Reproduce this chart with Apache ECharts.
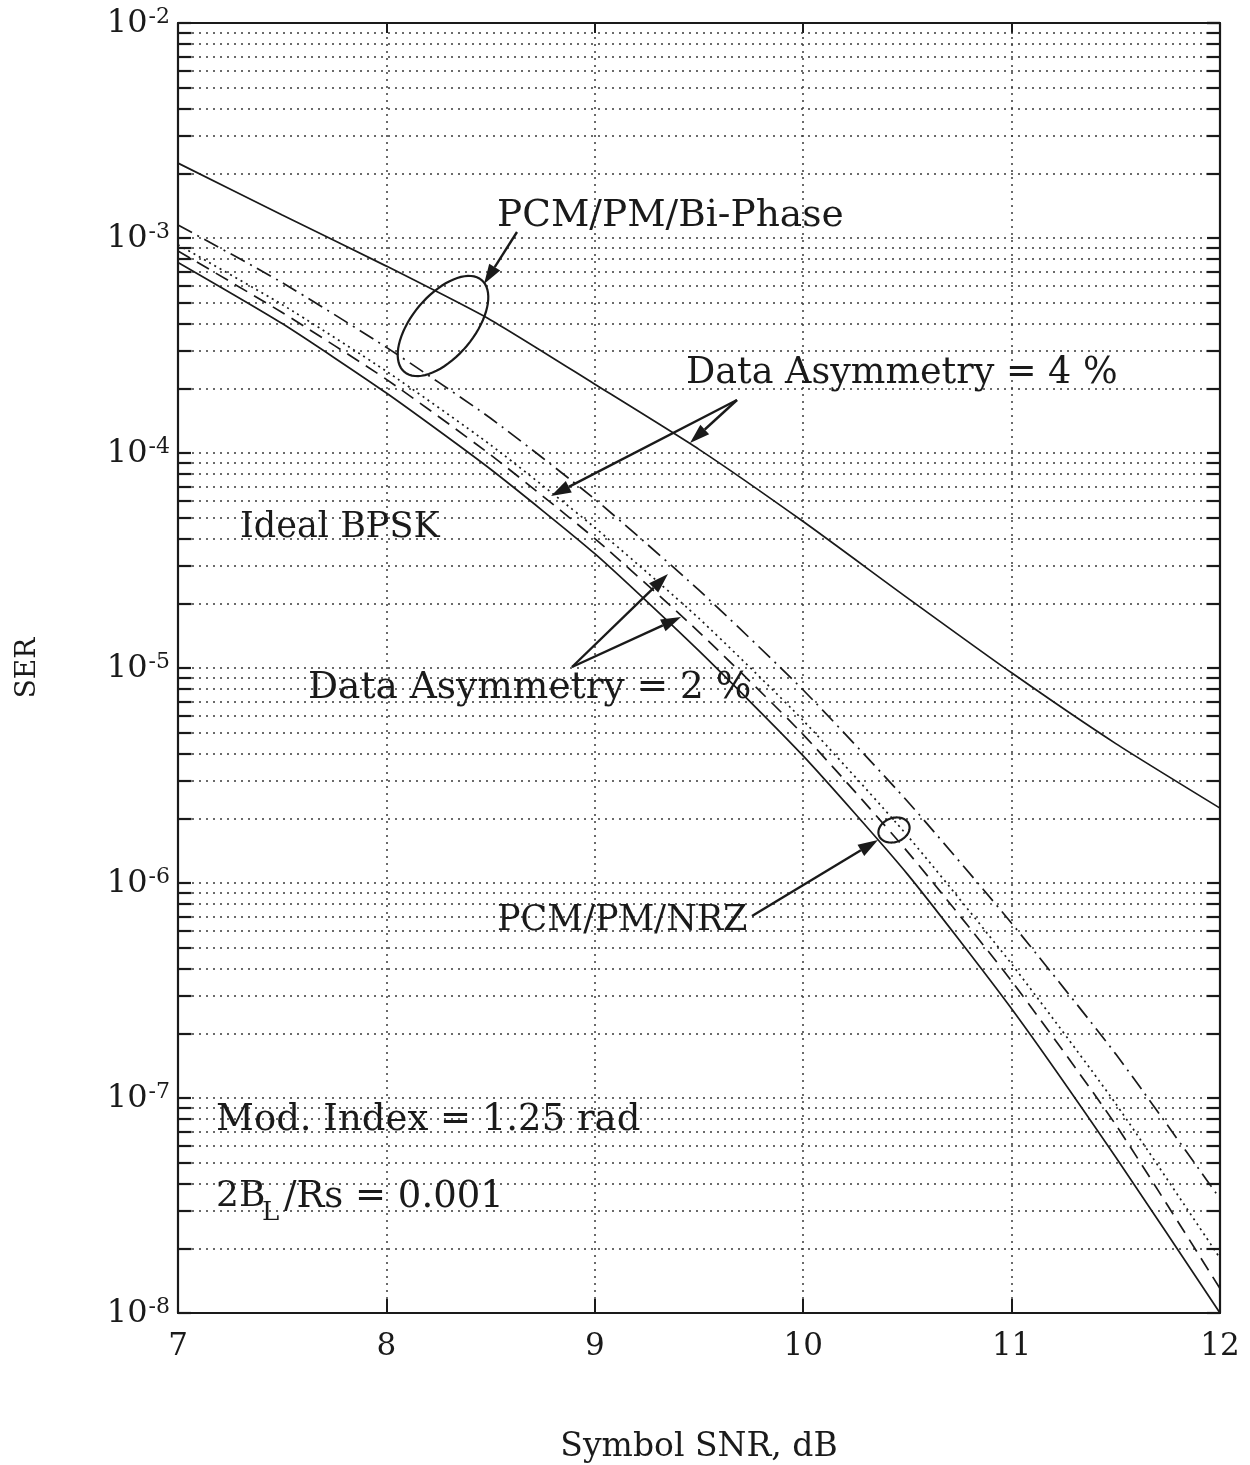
<!DOCTYPE html>
<html><head><meta charset="utf-8">
<script src="https://cdn.jsdelivr.net/npm/echarts@6/dist/echarts.min.js"></script>
<style>html,body{margin:0;padding:0;background:#fff}#c{width:1250px;height:1465px}</style>
</head><body><div id="c"></div>
<script>
// ---- data ----
const snrDb = [7, 7.5, 8, 8.5, 9, 9.5, 10, 10.5, 11, 11.5, 12];
const biPhaseSolid = [2.23e-3, 1.28e-3, 7.4e-4, 4.16e-4, 2.09e-4, 1.04e-4, 4.8e-5, 2.12e-5, 9.5e-6, 4.45e-6, 2.23e-6];
const dashDotCurve = [1.15e-3, 6.2e-4, 3.1e-4, 1.45e-4, 6.1e-5, 2.3e-5, 7.9e-6, 2.4e-6, 6.5e-7, 1.6e-7, 3.4e-8];
const dottedCurve  = [9.3e-4, 4.9e-4, 2.4e-4, 1.09e-4, 4.5e-5, 1.7e-5, 5.7e-6, 1.66e-6, 4.2e-7, 9.4e-8, 1.8e-8];
const dashedCurve  = [8.7e-4, 4.5e-4, 2.2e-4, 9.8e-5, 4.0e-5, 1.47e-5, 4.9e-6, 1.4e-6, 3.5e-7, 7.5e-8, 1.3e-8];
const idealBpsk    = [7.7e-4, 4.0e-4, 1.9e-4, 8.4e-5, 3.4e-5, 1.2e-5, 3.9e-6, 1.1e-6, 2.6e-7, 5.3e-8, 1.0e-8];
const xTicks = [7, 8, 9, 10, 11, 12];
const decadeExponents = [-8, -7, -6, -5, -4, -3];
const minorMultipliers = [2, 3, 4, 5, 6, 7, 8, 9];

// ---- build helpers ----
const pair = (ys) => snrDb.map((x, i) => [x, ys[i]]);
const minorValues = [];
decadeExponents.forEach(e => minorMultipliers.forEach(m => minorValues.push(+(m * Math.pow(10, e)).toPrecision(3))));

const SERIF = '"DejaVu Serif"';
const INK = '#1a1a1a';
const GRID = '#3a3a3a';

const minorGridLines = minorValues.map(v => [{ coord: [7, v] }, { coord: [12, v] }]);
const tickLen = 0.065;
const minorTickSegs = [];
minorValues.forEach(v => {
  minorTickSegs.push([{ coord: [7, v] }, { coord: [7 + tickLen, v] }]);
  minorTickSegs.push([{ coord: [12 - tickLen, v] }, { coord: [12, v] }]);
});

function lineSeries(name, data, type) {
  return {
    name, type: 'line', data: pair(data), showSymbol: false, smooth: 0.2,
    lineStyle: { color: INK, width: 1.7, type }, silent: true, z: 5
  };
}

function arrow(x1, y1, x2, y2) {
  const ang = Math.atan2(y2 - y1, x2 - x1);
  const L = 20, W = 6.5;
  const bx = x2 - L * Math.cos(ang), by = y2 - L * Math.sin(ang);
  const px = -Math.sin(ang) * W, py = Math.cos(ang) * W;
  return [
    { type: 'line', shape: { x1, y1, x2: bx, y2: by }, style: { stroke: INK, lineWidth: 2.4 }, z: 10 },
    { type: 'polygon', shape: { points: [[x2, y2], [bx + px, by + py], [bx - px, by - py]] }, style: { fill: INK }, z: 10 }
  ];
}
function ellipse(cx, cy, a, b, deg) {
  const pts = [];
  const t = deg * Math.PI / 180;
  for (let i = 0; i < 72; i++) {
    const u = i / 72 * 2 * Math.PI;
    const ex = a * Math.cos(u), ey = b * Math.sin(u);
    pts.push([cx + ex * Math.cos(t) - ey * Math.sin(t), cy + ex * Math.sin(t) + ey * Math.cos(t)]);
  }
  return { type: 'polygon', shape: { points: pts }, style: { fill: 'none', stroke: INK, lineWidth: 2.2 }, z: 10 };
}
function label(text, x, y, size) {
  return { type: 'text', x, y, style: { text, font: (size || 34) + 'px ' + SERIF, fill: INK, verticalAlign: 'middle' }, z: 10 };
}

const graphics = [
  label('PCM/PM/Bi-Phase', 497, 216, 37.5),
  label('Data Asymmetry = 4 %', 686, 374, 36.5),
  label('Ideal BPSK', 240, 528, 35),
  label('Data Asymmetry = 2 %', 308, 688, 37.5),
  label('PCM/PM/NRZ', 497, 921, 35),
  label('Mod. Index = 1.25 rad', 216, 1120, 37),
  label('2B', 216, 1197, 36),
  label('L', 262, 1213, 26),
  label('/Rs = 0.001', 284, 1197, 37),
  ellipse(443, 326, 60, 31, -50),
  ellipse(894, 830, 16, 12, -20),
  ...arrow(517, 232, 484, 284),
  ...arrow(737, 400, 551, 496),
  ...arrow(737, 400, 690, 443),
  ...arrow(572, 667, 668, 574),
  ...arrow(572, 667, 681, 617),
  ...arrow(752, 916, 878, 840)
];

const chart = echarts.init(document.getElementById('c'), null, { renderer: 'canvas' });
const yAxisBase = {
  type: 'log', logBase: 10, min: 1e-8, max: 1e-2, splitNumber: 6,
  axisLine: { show: true, lineStyle: { color: INK, width: 2.2 } },
  axisTick: { show: true, inside: true, length: 13, lineStyle: { color: INK, width: 2.2 } },
  splitLine: { show: false }
};
chart.setOption({
  animation: false,
  backgroundColor: '#fff',
  grid: { left: 178, right: 30, top: 23, bottom: 152, containLabel: false, outerBoundsMode: 'none' },
  xAxis: [{
    type: 'value', min: 7, max: 12, interval: 1,
    name: 'Symbol SNR, dB', nameLocation: 'middle', nameGap: 118,
    nameTextStyle: { fontFamily: SERIF, fontSize: 33, color: INK },
    axisLine: { show: true, lineStyle: { color: INK, width: 2.2 } },
    axisTick: { show: true, inside: true, length: 14, lineStyle: { color: INK, width: 2 } },
    axisLabel: { fontFamily: SERIF, fontSize: 31, color: INK, margin: 18, formatter: v => xTicks.includes(v) ? String(v) : '' },
    splitLine: { show: true, lineStyle: { color: GRID, width: 1.5, type: [2, 5] } }
  }, {
    type: 'value', min: 7, max: 12, interval: 1, position: 'top',
    axisLine: { show: true, lineStyle: { color: INK, width: 2.2 } },
    axisTick: { show: true, inside: true, length: 10, lineStyle: { color: INK, width: 2 } },
    axisLabel: { show: false }, splitLine: { show: false }
  }],
  yAxis: [Object.assign({}, yAxisBase, {
    name: 'SER', nameLocation: 'middle', nameGap: 136, nameRotate: 90,
    nameTextStyle: { fontFamily: SERIF, fontSize: 28, color: INK },
    splitLine: { show: true, lineStyle: { color: GRID, width: 1.5, type: [2, 5] } },
    axisLabel: {
      margin: 8, color: INK,
      formatter: v => '{b|10}{s|' + Math.round(Math.log10(v)) + '}',
      rich: {
        b: { fontFamily: SERIF, fontSize: 32, color: INK, lineHeight: 34, verticalAlign: 'bottom' },
        s: { fontFamily: SERIF, fontSize: 22, color: INK, lineHeight: 34, verticalAlign: 'top', padding: [0, 0, 14, 1] }
      }
    }
  }), Object.assign({}, yAxisBase, { position: 'right', axisLabel: { show: false } })],
  series: [
    Object.assign(lineSeries('Ideal BPSK', idealBpsk, 'solid'), {
      markLine: {
        silent: true, symbol: ['none', 'none'], label: { show: false }, animation: false,
        lineStyle: { color: GRID, width: 1.5, type: [2, 5] },
        data: minorGridLines
      }
    }),
    Object.assign(lineSeries('PCM/PM/NRZ, 2 %', dashedCurve, [14, 8]), {
      markLine: {
        silent: true, symbol: ['none', 'none'], label: { show: false }, animation: false,
        lineStyle: { color: INK, width: 2.2, type: 'solid' },
        data: minorTickSegs
      }
    }),
    lineSeries('PCM/PM/NRZ, 4 %', dottedCurve, [2, 4]),
    lineSeries('PCM/PM/Bi-Phase, 2 %', dashDotCurve, [16, 6, 2, 6]),
    lineSeries('PCM/PM/Bi-Phase, 4 %', biPhaseSolid, 'solid')
  ],
  graphic: graphics
});
</script>
</body></html>
